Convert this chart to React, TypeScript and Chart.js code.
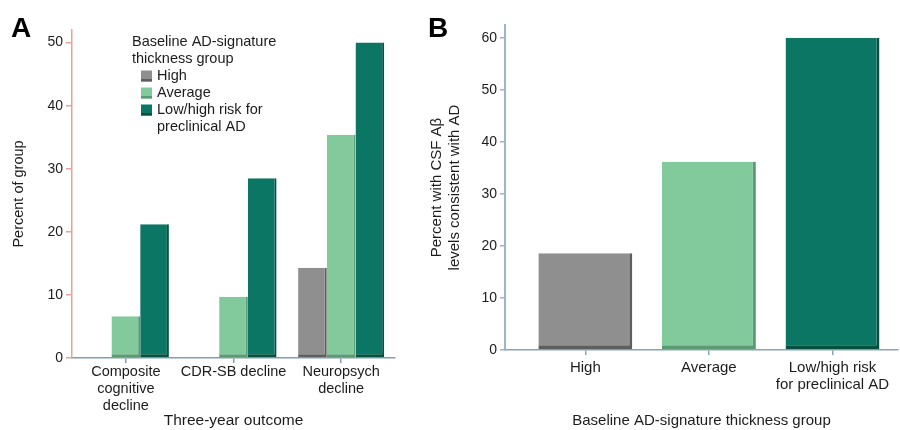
import React, { useEffect, useRef } from "react";
import { Chart, registerables } from "chart.js";

Chart.register(...registerables);

// ---------- Panel A data ----------
const outcomeLabels: string[][] = [
  ["Composite", "cognitive", "decline"],
  ["CDR-SB decline"],
  ["Neuropsych", "decline"],
];
const seriesNames = ["High", "Average", "Low/high risk for preclinical AD"];
const legendTitle = ["Baseline AD-signature", "thickness group"];
const legendLines: string[][] = [["High"], ["Average"], ["Low/high risk for", "preclinical AD"]];
const highPct = [0, 0, 14.3];
const averagePct = [6.6, 9.7, 35.4];
const lowRiskPct = [21.2, 28.5, 50];
const ticksA = [0, 10, 20, 30, 40, 50];

// ---------- Panel B data ----------
const groupTickLabels: string[][] = [["High"], ["Average"], ["Low/high risk", "for preclinical AD"]];
const csfPct = [18.6, 36.2, 60];
const ticksB = [0, 10, 20, 30, 40, 50, 60];

const fills = ["#8f8f8f", "#82c99c", "#0b7663"];
const edges = ["#5e5e5e", "#5c9a73", "#05503f"];

const FONT = "'Liberation Sans', Arial, Helvetica, sans-serif";
const TEXT = "#1c1c1c";

const letterPlugin = (letter: string, x: number, y: number) => ({
  id: "panelLetter" + letter,
  afterDraw(chart: any) {
    const ctx = chart.ctx;
    ctx.save();
    ctx.font = `bold 28px ${FONT}`;
    ctx.fillStyle = "#000";
    ctx.textBaseline = "alphabetic";
    ctx.fillText(letter, x, y);
    ctx.restore();
  },
});

const insideLegend = {
  id: "insideLegend",
  afterDraw(chart: any) {
    const ctx = chart.ctx;
    ctx.save();
    ctx.font = `14.5px ${FONT}`;
    ctx.fillStyle = TEXT;
    ctx.textBaseline = "middle";
    legendTitle.forEach((t, i) => ctx.fillText(t, 132, 42 + i * 16.5));
    let y = 76;
    chart.data.datasets.forEach((ds: any, i: number) => {
      ctx.fillStyle = ds.backgroundColor;
      ctx.fillRect(141, y - 5.5, 11, 11);
      ctx.fillStyle = edges[i];
      ctx.fillRect(141, y + 3, 11, 2.5);
      ctx.fillStyle = TEXT;
      legendLines[i].forEach((line, j) => ctx.fillText(line, 157, y + j * 17));
      y += 17 * legendLines[i].length;
    });
    ctx.restore();
  },
};

const barStyle = (i: number) => ({
  backgroundColor: fills[i],
  borderColor: edges[i],
  borderWidth: { top: 0, left: 0, right: 2, bottom: 3 },
  borderSkipped: false as const,
});

export default function App() {
  const refA = useRef<HTMLCanvasElement>(null);
  const refB = useRef<HTMLCanvasElement>(null);

  useEffect(() => {
    Chart.defaults.font.family = FONT;
    Chart.defaults.color = TEXT;

    const chartA = new Chart(refA.current!, {
      type: "bar",
      data: {
        labels: outcomeLabels,
        datasets: [
          { label: seriesNames[0], data: highPct, ...barStyle(0) },
          { label: seriesNames[1], data: averagePct, ...barStyle(1) },
          { label: seriesNames[2], data: lowRiskPct, ...barStyle(2) },
        ],
      },
      options: {
        responsive: false,
        animation: false,
        layout: { padding: { left: 0, right: 15, top: 30, bottom: 0 } },
        datasets: { bar: { categoryPercentage: 0.8, barPercentage: 1 } },
        plugins: { legend: { display: false }, tooltip: { enabled: false } },
        scales: {
          x: {
            afterFit: (s: any) => { s.height = 72; },
            border: { color: "#7f9db5", width: 1.5 },
            grid: { drawOnChartArea: false, offset: false, tickLength: 5, color: "#7f9db5", lineWidth: 1.5 },
            ticks: { font: { size: 14.5, lineHeight: 1.15 }, padding: 1, maxRotation: 0, autoSkip: false, color: TEXT },
            title: { display: true, text: "Three-year outcome", font: { size: 15.5 }, padding: { top: 0, bottom: 0 }, color: TEXT },
          },
          y: {
            min: 0,
            max: 52,
            afterFit: (s: any) => { s.width = 72; },
            afterBuildTicks: (s: any) => { s.ticks = ticksA.map((v) => ({ value: v })); },
            border: { color: "#e3a595", width: 1.5 },
            grid: { drawOnChartArea: false, tickLength: 6, color: "#e3a595", lineWidth: 1.5 },
            ticks: { font: { size: 14 }, padding: 3, color: TEXT },
            title: { display: true, text: "Percent of group", font: { size: 14.5 }, padding: { top: 10, bottom: 0 }, color: TEXT },
          },
        },
      },
      plugins: [insideLegend, letterPlugin("A", 11, 37)],
    });

    const chartB = new Chart(refB.current!, {
      type: "bar",
      data: {
        datasets: [
          {
            label: "Percent with CSF Aβ levels consistent with AD",
            data: csfPct.map((v, i) => ({ x: i, y: v })),
            backgroundColor: fills,
            borderColor: edges,
            borderWidth: { top: 0, left: 0, right: 3, bottom: 4 },
            borderSkipped: false,
            categoryPercentage: 0.76,
            barPercentage: 1,
          } as any,
        ],
      },
      options: {
        responsive: false,
        animation: false,
        layout: { padding: { left: 0, right: 2, top: 25, bottom: 0 } },
        plugins: { legend: { display: false }, tooltip: { enabled: false } },
        scales: {
          x: {
            type: "linear",
            offset: false,
            min: -0.65,
            max: 2.53,
            afterFit: (s: any) => { s.height = 80; },
            afterBuildTicks: (s: any) => { s.ticks = groupTickLabels.map((_, i) => ({ value: i })); },
            border: { color: "#86a3b8", width: 1.5 },
            grid: { drawOnChartArea: false, offset: false, tickLength: 5, color: "#86a3b8", lineWidth: 1.5 },
            ticks: {
              font: { size: 15, lineHeight: 1.15 },
              padding: 4,
              maxRotation: 0,
              autoSkip: false,
              color: TEXT,
              callback: (v: any) => groupTickLabels[Math.round(Number(v))] ?? "",
            },
            title: { display: true, text: "Baseline AD-signature thickness group", font: { size: 15 }, padding: { top: 0, bottom: 0 }, color: TEXT },
          },
          y: {
            min: 0,
            max: 62.5,
            afterFit: (s: any) => { s.width = 90; },
            afterBuildTicks: (s: any) => { s.ticks = ticksB.map((v) => ({ value: v })); },
            border: { color: "#9bb5c9", width: 2 },
            grid: { drawOnChartArea: false, tickLength: 5, color: "#9bb5c9", lineWidth: 1.5 },
            ticks: { font: { size: 14 }, padding: 3, color: TEXT },
            title: {
              display: true,
              text: ["Percent with CSF Aβ", "levels consistent with AD"],
              font: { size: 15, lineHeight: 1.2 },
              padding: { top: 13, bottom: 0 },
              color: TEXT,
            },
          },
        },
      },
      plugins: [letterPlugin("B", 13, 37)],
    });

    return () => {
      chartA.destroy();
      chartB.destroy();
    };
  }, []);

  return (
    <div style={{ position: "absolute", left: 0, top: 0, width: 900, height: 430, background: "#fff" }}>
      <canvas ref={refA} width={410} height={430} style={{ position: "absolute", left: 0, top: 0 }} />
      <canvas ref={refB} width={485} height={430} style={{ position: "absolute", left: 415, top: 0 }} />
    </div>
  );
}
